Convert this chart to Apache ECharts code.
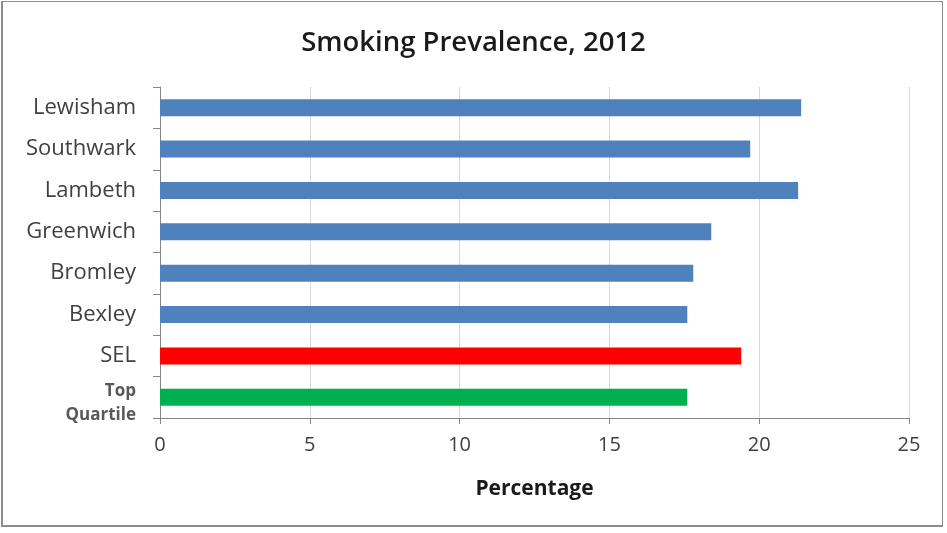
<!DOCTYPE html>
<html>
<head>
<meta charset="utf-8">
<script src="https://cdn.jsdelivr.net/npm/echarts@6/dist/echarts.min.js"></script>
<style>
  html, body { margin: 0; padding: 0; background: #fff; }
  #frame { position: absolute; left: 1px; top: 1px; width: 942px; height: 526px; border: 1px solid #8c8c8c; border-left-width: 2px; border-bottom-width: 2px; box-sizing: border-box; }
  #main { width: 947px; height: 533px; }
</style>
</head>
<body>
<div id="frame"></div>
<div id="main"></div>
<script>
// categories top to bottom
var areas = ['Lewisham', 'Southwark', 'Lambeth', 'Greenwich', 'Bromley', 'Bexley', 'SEL', 'Top\nQuartile'];
var prevalence = [21.4, 19.7, 21.3, 18.4, 17.8, 17.6, 19.4, 17.6];
var barColors = ['#4f81bd', '#4f81bd', '#4f81bd', '#4f81bd', '#4f81bd', '#4f81bd', '#ff0000', '#00b050'];
var xTicks = [0, 5, 10, 15, 20, 25];

var chart = echarts.init(document.getElementById('main'));

chart.setOption({
  animation: false,
  title: {
    text: 'Smoking Prevalence, 2012',
    left: 'center',
    top: 24,
    textStyle: { fontFamily: 'Open Sans', fontSize: 27.5, fontWeight: 600, color: '#1a1a1a' }
  },
  grid: { left: 160, right: 38, top: 87, bottom: 115, containLabel: false },
  xAxis: {
    type: 'value',
    min: xTicks[0],
    max: xTicks[xTicks.length - 1],
    interval: 5,
    name: 'Percentage',
    nameLocation: 'middle',
    nameGap: 61,
    nameTextStyle: { fontFamily: 'Open Sans', fontSize: 21, fontWeight: 'bold', color: '#1a1a1a' },
    axisLine: { show: true, lineStyle: { color: '#868686' } },
    axisTick: { show: true, length: 6, lineStyle: { color: '#868686' } },
    axisLabel: { fontFamily: 'Open Sans', fontSize: 20, color: '#404040', margin: 17 },
    splitLine: { show: true, lineStyle: { color: '#d9d9d9', width: 1 } }
  },
  yAxis: {
    type: 'category',
    data: areas,
    inverse: true,
    axisLine: { show: true, lineStyle: { color: '#868686' } },
    axisTick: { show: true, length: 7, lineStyle: { color: '#868686' } },
    axisLabel: {
      fontFamily: 'Open Sans',
      fontSize: 22,
      color: '#404040',
      margin: 24,
      formatter: function (v) {
        var parts = v.split('\n');
        if (parts.length < 2) return v;
        // empty first line nudges the two-line label down a little
        return '{e|}\n{b|' + parts[0] + '}\n{b|' + parts[1] + '}';
      },
      rich: {
        e: { lineHeight: 12, fontSize: 10 },
        b: { fontFamily: 'Open Sans', fontSize: 17, fontWeight: 'bold', color: '#595959', lineHeight: 24, align: 'right' }
      }
    }
  },
  series: [{
    type: 'bar',
    data: prevalence.map(function (v, i) {
      return { value: v, itemStyle: { color: barColors[i] } };
    }),
    barWidth: 17
  }]
});
</script>
</body>
</html>
